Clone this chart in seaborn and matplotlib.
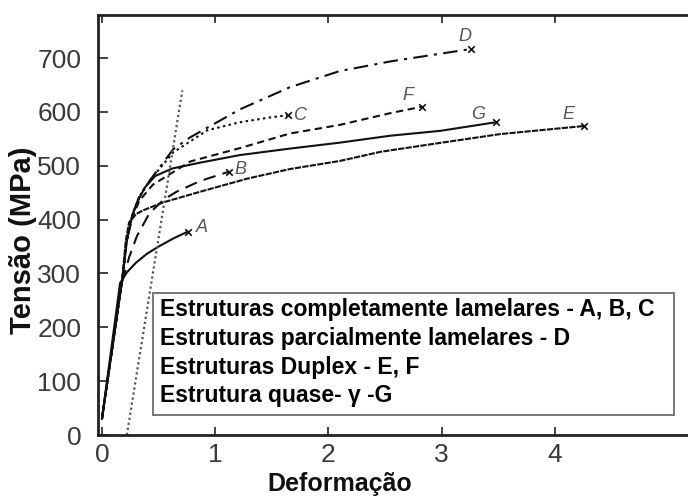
import matplotlib
matplotlib.use("Agg")
import matplotlib.pyplot as plt
from matplotlib.patches import Rectangle
import seaborn as sns

# Stress-strain curves (strain, stress in MPa)
a_x = [0.00, 0.16, 0.22, 0.30, 0.40, 0.50, 0.63, 0.76]
a_y = [30, 282, 302, 320, 337, 350, 365, 378]

b_x = [0.00, 0.17, 0.24, 0.31, 0.42, 0.55, 0.66, 0.87, 1.12]
b_y = [30, 278, 330, 370, 412, 438, 452, 472, 489]

c_x = [0.00, 0.18, 0.22, 0.27, 0.33, 0.42, 0.63, 0.93, 1.22, 1.49, 1.64]
c_y = [30, 290, 362, 410, 443, 472, 525, 566, 581, 590, 594]

d_x = [0.00, 0.18, 0.22, 0.27, 0.33, 0.42, 0.63, 0.78, 1.22, 1.66, 2.10, 2.55, 3.26]
d_y = [30, 290, 362, 410, 443, 472, 531, 553, 605, 646, 676, 694, 717]

e_x = [0.00, 0.18, 0.21, 0.24, 0.30, 0.36, 0.54, 0.87, 1.28, 1.66, 2.10, 2.46, 3.00, 3.52, 4.26]
e_y = [30, 290, 360, 395, 410, 417, 432, 452, 476, 494, 509, 526, 543, 559, 574]

f_x = [0.00, 0.18, 0.22, 0.27, 0.33, 0.45, 0.78, 1.22, 1.66, 2.10, 2.55, 2.83]
f_y = [30, 290, 362, 405, 435, 465, 508, 533, 560, 576, 598, 610]

g_x = [0.00, 0.18, 0.22, 0.27, 0.33, 0.38, 0.47, 0.62, 0.87, 1.22, 1.66, 2.10, 2.55, 2.99, 3.48]
g_y = [30, 290, 362, 410, 440, 460, 481, 495, 506, 520, 532, 543, 556, 565, 581]

# 0.2 offset line
off_x = [0.22, 0.71]
off_y = [0, 640]

curve_names = ["A", "B", "C", "D", "E", "F", "G"]
label_x = [0.88, 1.22, 1.75, 3.21, 4.12, 2.70, 3.32]
label_y = [385, 494, 593, 741, 596, 630, 596]

legend_lines = [
    "Estruturas completamente lamelares - A, B, C",
    "Estruturas parcialmente lamelares - D",
    "Estruturas Duplex - E, F",
    "Estrutura quase- γ -G",
]

x_ticks = [0, 1, 2, 3, 4]
y_ticks = [0, 100, 200, 300, 400, 500, 600, 700]

sns.set_theme(style="white")
plt.rcParams["font.family"] = ["Liberation Sans", "DejaVu Sans"]

fig = plt.figure(figsize=(6.88, 4.97), dpi=100)
ax = fig.add_axes([0.1424, 0.1247, 0.86, 0.845])

curves = [
    (a_x, a_y, "-"),
    (b_x, b_y, (0, (6, 3.5))),
    (c_x, c_y, (0, (1.2, 1.6))),
    (d_x, d_y, (0, (7, 3, 1.5, 3))),
    (e_x, e_y, (0, (3, 0.6))),
    (f_x, f_y, (0, (3.5, 2.2))),
    (g_x, g_y, "-"),
]
ink = "#111111"
for xs, ys, ls in curves:
    sns.lineplot(x=xs, y=ys, sort=False, estimator=None, ax=ax,
                 color=ink, linewidth=1.5, linestyle=ls)
    sns.scatterplot(x=[xs[-1]], y=[ys[-1]], marker="x", s=22, color=ink,
                    linewidth=1.2, ax=ax, zorder=4)

sns.lineplot(x=off_x, y=off_y, sort=False, estimator=None, ax=ax,
             color="#555555", linewidth=1.6, linestyle=(0, (1, 1.3)))

for name, lx, ly in zip(curve_names, label_x, label_y):
    ax.text(lx, ly, name, fontsize=13, fontstyle="italic", color="#555555",
            ha="center", va="center")

ax.set_xlim(-0.035, 5.19)
ax.set_ylim(0, 780)
ax.set_xticks(x_ticks)
ax.set_yticks(y_ticks)
ax.tick_params(axis="both", direction="in", length=7, width=1.2,
               labelsize=19, colors="#222222", labelcolor="#3a3a3a")
ax.tick_params(axis="x", top=True, bottom=True, length=6, pad=6)
ax.tick_params(axis="y", left=True, right=False, pad=12)
for side in ["left", "bottom", "top"]:
    ax.spines[side].set_color("#222222")
    ax.spines[side].set_linewidth(2.0)
ax.spines["right"].set_visible(False)

ax.set_xlabel("Deformação", fontsize=18, fontweight="bold", color="#111111")
ax.set_ylabel("Tensão (MPa)", fontsize=21, fontweight="bold", color="#111111")
ax.xaxis.set_label_coords(0.408, -0.088)
ax.yaxis.set_label_coords(-0.103, 0.464)

# legend box describing the microstructures
ax.add_patch(Rectangle((0.093, 0.048), 0.88, 0.29, transform=ax.transAxes,
                       facecolor="white", edgecolor="#777777",
                       linewidth=1.4, zorder=5))
rows_y = [0.298, 0.231, 0.161, 0.095]
for txt, ty in zip(legend_lines, rows_y):
    ax.text(0.105, ty, txt, transform=ax.transAxes, fontsize=16.5,
            fontweight="bold", color="black", ha="left", va="center",
            zorder=6)

fig.savefig("out.png", dpi=100)
